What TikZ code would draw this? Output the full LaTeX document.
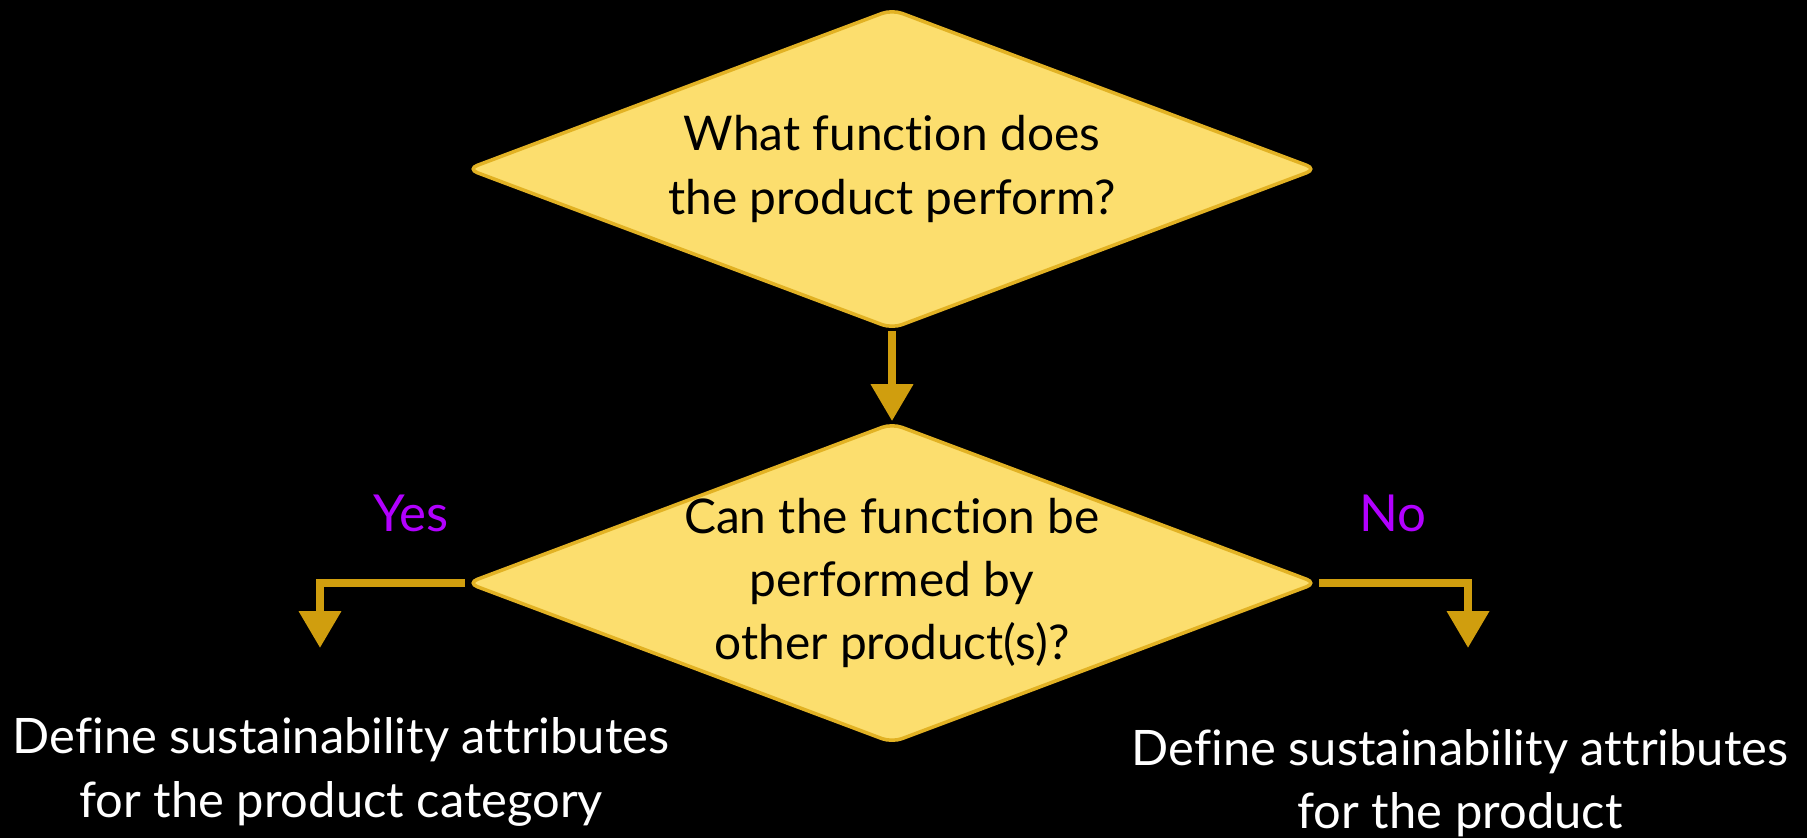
\documentclass[tikz,border=0pt]{standalone}
\usepackage{fontspec}
\setmainfont{Lato}[Ligatures=NoCommon]
\usepackage{xcolor}
\usetikzlibrary{positioning, arrows.meta, shapes.geometric, calc}

\definecolor{decfill}{RGB}{252,222,110}
\definecolor{decedge}{RGB}{226,178,36}
\definecolor{flowgold}{RGB}{208,158,14}
\definecolor{answer}{RGB}{178,0,255}

\begin{document}
\begin{tikzpicture}[
    x=0.01cm, y=-0.01cm,
    decision/.style={diamond, aspect=2.66, draw=decedge, fill=decfill, line width=1pt, rounded corners=3pt,
        minimum width=8.5cm, minimum height=3.2cm, inner sep=-0.4cm, align=center,
        font=\fontsize{13.6}{18}\selectfont},
    outcome/.style={align=center, text=white, font=\fontsize{13.9}{18}\selectfont},
    answerlabel/.style={text=answer, font=\fontsize{14.5}{18}\selectfont},
    arrow/.style={-{Triangle[width=11.5pt,length=10.5pt]}, flowgold, line width=2.4pt}
]

% Background
\fill[black] (0,0) rectangle (1807,838);
\useasboundingbox (0,0) rectangle (1807,838);

% Decisions
\node[decision] (what) at (892,169) {What function does\\the product perform?};
\node[decision] (can) at (892,583) {Can the function be\\performed by\\other product(s)?};

% Outcomes
\node[outcome] (category) at (341,772) {Define sustainability attributes\\for the product category};
\node[outcome] (product) at (1460,783) {Define sustainability attributes\\for the product};

% Arrow ends
\coordinate (yesend) at (320,648);
\coordinate (noend) at (1468,648);

% Answers
\node[answerlabel] (yes) at (411,513) {Yes};
\node[answerlabel] (no) at (1393,513) {No};

% Flow
\draw[arrow] (what.south) -- (can.north);
\draw[arrow] (can.west) -| (yesend);
\draw[arrow] (can.east) -| (noend);

\end{tikzpicture}
\end{document}
